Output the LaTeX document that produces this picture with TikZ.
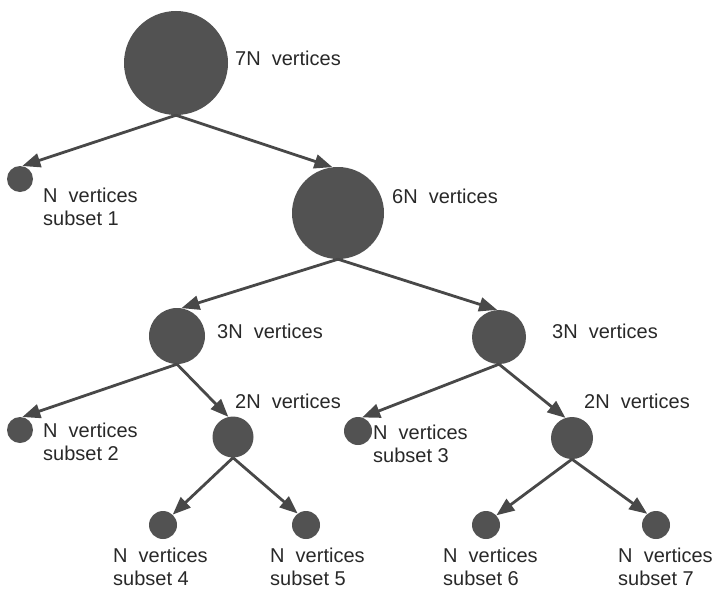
\documentclass[tikz,border=0pt]{standalone}
\usepackage{fontspec}
\setmainfont{Liberation Sans}
\usetikzlibrary{arrows.meta}
\definecolor{vfill}{RGB}{82,82,82}
\definecolor{edgec}{RGB}{72,72,72}
\definecolor{txt}{RGB}{40,40,40}
\begin{document}
\begin{tikzpicture}[x=1pt,y=-1pt,
  vtx/.style={circle,fill=vfill,draw=none,inner sep=0pt,minimum size=#1},
  lbl/.style={anchor=base west,inner sep=0pt,text=txt,font=\fontsize{20}{22.5}\selectfont,align=left},
  edge/.style={draw=edgec,line width=2.8pt,-{Triangle[length=18pt,width=14pt]}}]
\useasboundingbox (0,0) rectangle (719,594);
% vertices
\node[vtx=104pt] (A) at (176,63) {};
\node[vtx=26pt] (S1) at (20,179) {};
\node[vtx=92pt] (B) at (338,213) {};
\node[vtx=56pt] (C) at (177,336) {};
\node[vtx=54pt] (D) at (499,337) {};
\node[vtx=26pt] (S2) at (20,430) {};
\node[vtx=41pt] (E) at (233,437) {};
\node[vtx=28pt] (S3) at (358,431) {};
\node[vtx=42pt] (F) at (572,438) {};
\node[vtx=28pt] (S4) at (163,525) {};
\node[vtx=28pt] (S5) at (306,525) {};
\node[vtx=28pt] (S6) at (486,525) {};
\node[vtx=28pt] (S7) at (656,525) {};
% labels (two-line labels are placed by the baseline of their last line)
\node[lbl] (lA) at (235,65) {7N\ \ vertices};
\node[lbl] (lS1) at (43,225) {N\ \ vertices\\subset 1};
\node[lbl] (lB) at (392,203) {6N\ \ vertices};
\node[lbl] (lC) at (217,338) {3N\ \ vertices};
\node[lbl] (lD) at (552,338) {3N\ \ vertices};
\node[lbl] (lE) at (235,408) {2N\ \ vertices};
\node[lbl] (lF) at (584,408) {2N\ \ vertices};
\node[lbl] (lS2) at (43,460) {N\ \ vertices\\subset 2};
\node[lbl] (lS3) at (373,462) {N\ \ vertices\\subset 3};
\node[lbl] (lS4) at (113,585) {N\ \ vertices\\subset 4};
\node[lbl] (lS5) at (270,585) {N\ \ vertices\\subset 5};
\node[lbl] (lS6) at (443,585) {N\ \ vertices\\subset 6};
\node[lbl] (lS7) at (618,585) {N\ \ vertices\\subset 7};
% edges
\draw[edge] (A.south) -- (S1.80);
\draw[edge] (A.south) -- (B.97);
\draw[edge] (B.south) -- (C.81);
\draw[edge] (B.south) -- (D.94);
\draw[edge] (C.south) -- (S2.80);
\draw[edge] (C.south) -- (E.103);
\draw[edge] (D.south) -- (S3.73);
\draw[edge] (D.south) -- (F.108);
\draw[edge] (E.south) -- (S4.47);
\draw[edge] (E.south) -- (S5.126);
\draw[edge] (F.south) -- (S6.43);
\draw[edge] (F.south) -- (S7.128);
\end{tikzpicture}
\end{document}
